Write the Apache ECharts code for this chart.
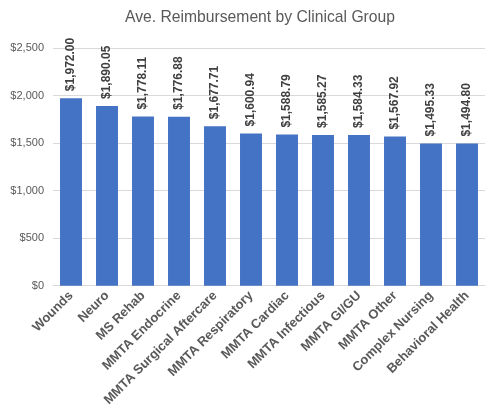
<!DOCTYPE html>
<html>
<head>
<meta charset="utf-8">
<script src="https://cdn.jsdelivr.net/npm/echarts@6/dist/echarts.min.js"></script>
<style>
  html, body { margin: 0; padding: 0; background: #fff; }
  #chartData { width: 490px; height: 409px; }
</style>
</head>
<body>
<div id="chartData"></div>
<script>
var categories = ["Wounds", "Neuro", "MS Rehab", "MMTA Endocrine", "MMTA Surgical Aftercare",
  "MMTA Respiratory", "MMTA Cardiac", "MMTA Infectious", "MMTA GI/GU", "MMTA Other",
  "Complex Nursing", "Behavioral Health"];
var reimbursement = [1972.00, 1890.05, 1778.11, 1776.88, 1677.71, 1600.94, 1588.79,
  1585.27, 1584.33, 1567.92, 1495.33, 1494.80];
var yTicks = [0, 500, 1000, 1500, 2000, 2500];

function money(v, dec) {
  return "$" + v.toLocaleString("en-US", { minimumFractionDigits: dec, maximumFractionDigits: dec });
}

var myChart = echarts.init(document.getElementById("chartData"));
var option = {
  animation: false,
  title: {
    text: "Ave. Reimbursement by Clinical Group",
    left: 255,
    textAlign: "center",
    top: 5,
    textStyle: { color: "#595959", fontSize: 15.7, fontWeight: "normal", fontFamily: "Liberation Sans, Arial" }
  },
  grid: { left: 53, right: 5, top: 48, bottom: 123 },
  xAxis: {
    type: "category",
    data: categories,
    axisTick: { show: false },
    axisLine: { lineStyle: { color: "#d9d9d9" } },
    axisLabel: {
      interval: 0,
      rotate: 45,
      color: "#595959",
      fontWeight: "bold",
      fontSize: 13,
      fontFamily: "Liberation Sans, Arial",
      margin: 8
    }
  },
  yAxis: {
    type: "value",
    min: yTicks[0],
    max: yTicks[yTicks.length - 1],
    interval: 500,
    axisTick: { show: false },
    axisLine: { show: false },
    splitLine: { lineStyle: { color: "#d9d9d9", width: 1 } },
    axisLabel: {
      color: "#595959",
      fontSize: 11,
      fontFamily: "Liberation Sans, Arial",
      margin: 9,
      formatter: function (v) { return money(v, 0); }
    }
  },
  series: [{
    type: "bar",
    data: reimbursement,
    barWidth: "61%",
    itemStyle: { color: "#4472c4" },
    label: {
      show: true,
      position: "top",
      rotate: 90,
      align: "left",
      verticalAlign: "middle",
      distance: 7,
      color: "#404040",
      fontWeight: "bold",
      fontSize: 12,
      fontFamily: "Liberation Sans, Arial",
      formatter: function (p) { return money(p.value, 2); }
    }
  }]
};
myChart.setOption(option, true);
</script>
</body>
</html>
